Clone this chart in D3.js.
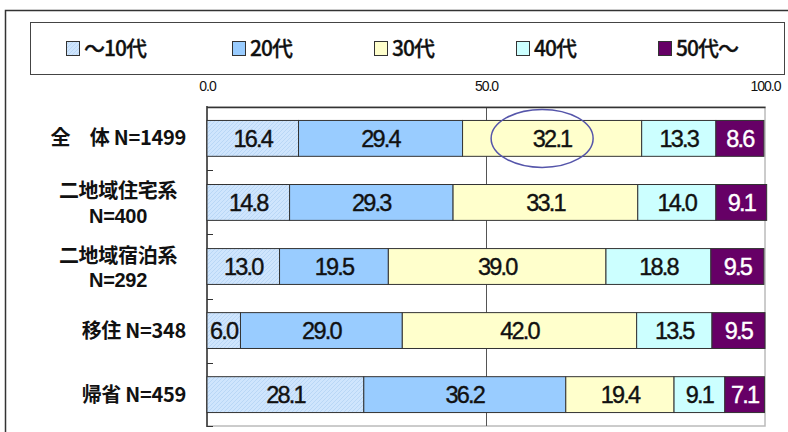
<!DOCTYPE html>
<html lang="ja">

<head>
    <meta charset="UTF-8">
    <title>年代構成</title>
    <style>
        html,
        body {
            margin: 0;
            padding: 0;
            background: #fff;
        }

        svg {
            display: block;
            font-family: "Noto Sans CJK JP", "Noto Sans", sans-serif;
        }
    </style>
</head>

<body>
    <div id="wrapper"></div>

    <script src="https://d3js.org/d3.v7.min.js"></script>
    <script>
        // data
        const categories = ['全体', '二地域住宅系', '二地域宿泊系', '移住', '帰省'];
        const rowLabels = [
            ['全　体 N=1499'],
            ['二地域住宅系', 'N=400'],
            ['二地域宿泊系', 'N=292'],
            ['移住 N=348'],
            ['帰省 N=459']
        ];
        const ageGroups = ['～10代', '20代', '30代', '40代', '50代～'];
        const teens = [16.4, 14.8, 13.0, 6.0, 28.1];
        const twenties = [29.4, 29.3, 19.5, 29.0, 36.2];
        const thirties = [32.1, 33.1, 39.0, 42.0, 19.4];
        const forties = [13.3, 14.0, 18.8, 13.5, 9.1];
        const fiftiesPlus = [8.6, 9.1, 9.5, 9.5, 7.1];
        const xTicks = [0, 50, 100];

        const colors = ['url(#hatch)', '#99ccff', '#ffffcc', '#ccffff', '#660066'];
        const textColors = ['#111', '#111', '#111', '#111', '#fff'];

        const width = 788, height = 432;
        const svg = d3.select('#wrapper').append('svg')
            .attr('width', width)
            .attr('height', height);

        // 斜線パターン (～10代)
        const defs = svg.append('defs');
        const pat = defs.append('pattern')
            .attr('id', 'hatch')
            .attr('patternUnits', 'userSpaceOnUse')
            .attr('width', 4).attr('height', 4);
        pat.append('rect').attr('width', 4).attr('height', 4).attr('fill', '#cfe5fd');
        pat.append('path').attr('d', 'M-1,1 l2,-2 M0,4 l4,-4 M3,5 l2,-2')
            .attr('stroke', '#b9d7f6').attr('stroke-width', 1);

        // 外枠
        svg.append('path')
            .attr('d', `M5.5,${height} V10.5 H${width}`)
            .attr('fill', 'none')
            .attr('stroke', '#333')
            .attr('stroke-width', 1.5);

        // 凡例
        svg.append('rect')
            .attr('x', 30.5).attr('y', 22.5)
            .attr('width', 754).attr('height', 52)
            .attr('fill', '#fff')
            .attr('stroke', '#444')
            .attr('stroke-width', 1);

        const legendX = [66, 232, 374, 516, 658];
        const legend = svg.append('g').selectAll('g')
            .data(ageGroups)
            .join('g')
            .attr('transform', (d, i) => `translate(${legendX[i]},41)`);
        legend.append('rect')
            .attr('x', 0.5).attr('y', 0.5)
            .attr('width', 13).attr('height', 14)
            .attr('fill', (d, i) => colors[i])
            .attr('stroke', '#333');
        legend.append('text')
            .attr('x', 18).attr('y', 15)
            .attr('font-size', 21)
            .attr('font-weight', 500)
            .attr('letter-spacing', -1)
            .attr('fill', '#111')
            .attr('stroke', '#111')
            .attr('stroke-width', 0.3)
            .text(d => d);

        // スケール
        const x = d3.scaleLinear().domain([0, 100]).range([207, 765]);
        const y = d3.scaleBand().domain(categories).range([107, 426])
            .paddingInner(0.44).paddingOuter(0.21);

        // プロットエリア枠
        svg.append('rect')
            .attr('x', x(0)).attr('y', 107)
            .attr('width', x(100) - x(0)).attr('height', 426 - 107)
            .attr('fill', '#fff')
            .attr('stroke', '#bbb')
            .attr('stroke-width', 1.5);

        // 50のグリッド線
        svg.append('line')
            .attr('x1', x(50) + 0.5).attr('x2', x(50) + 0.5)
            .attr('y1', 107).attr('y2', 426)
            .attr('stroke', '#555');

        // 上軸
        const xAxis = d3.axisTop(x)
            .tickValues(xTicks)
            .tickFormat(d3.format('.1f'))
            .tickSize(0)
            .tickPadding(16);
        const xAxisG = svg.append('g')
            .attr('transform', 'translate(0,107)')
            .call(xAxis);
        xAxisG.select('.domain')
            .attr('stroke', '#333')
            .attr('stroke-width', 1.5);
        xAxisG.selectAll('.tick text')
            .attr('font-family', '"Liberation Sans", Arial, sans-serif')
            .attr('font-size', 14)
            .attr('letter-spacing', -1)
            .attr('fill', '#111');

        // 左軸（カテゴリ境界のtick）
        const step = y.step();
        const boundaries = [107].concat(categories.slice(0, -1).map(c => y(c) + y.bandwidth() + (step - y.bandwidth()) / 2), [426]);
        svg.append('line')
            .attr('x1', x(0)).attr('x2', x(0))
            .attr('y1', 106).attr('y2', 427)
            .attr('stroke', '#333')
            .attr('stroke-width', 1.5);
        svg.append('g').selectAll('line')
            .data(boundaries)
            .join('line')
            .attr('x1', x(0)).attr('x2', x(0) + 6)
            .attr('y1', d => Math.round(d) + 0.5).attr('y2', d => Math.round(d) + 0.5)
            .attr('stroke', '#333');

        // 積み上げデータ
        const series = [teens, twenties, thirties, forties, fiftiesPlus];
        const rows = categories.map((c, i) => {
            let acc = 0;
            return series.map((s, k) => {
                const seg = { cat: c, k: k, v: s[i], x0: acc, x1: acc + s[i] };
                acc += s[i];
                return seg;
            });
        });

        const barG = svg.append('g');
        rows.forEach(segs => {
            const g = barG.append('g');
            g.selectAll('rect')
                .data(segs)
                .join('rect')
                .attr('x', d => x(d.x0))
                .attr('y', d => y(d.cat))
                .attr('width', d => x(d.x1) - x(d.x0))
                .attr('height', y.bandwidth())
                .attr('fill', d => colors[d.k])
                .attr('stroke', '#333')
                .attr('stroke-width', 1);
            g.selectAll('text')
                .data(segs)
                .join('text')
                .attr('x', d => (x(d.x0) + x(d.x1)) / 2)
                .attr('y', d => y(d.cat) + y.bandwidth() / 2 + 8.5)
                .attr('text-anchor', 'middle')
                .attr('font-family', '"Liberation Sans", Arial, sans-serif')
                .attr('font-size', 23.5)
                .attr('letter-spacing', -1.8)
                .attr('fill', d => textColors[d.k])
                .attr('stroke', d => textColors[d.k])
                .attr('stroke-width', 0.4)
                .text(d => d.v.toFixed(1));
        });

        // 行ラベル
        const labelG = svg.append('g')
            .attr('font-size', 20)
            .attr('font-weight', 700)
            .attr('fill', '#111');
        rowLabels.forEach((lines, i) => {
            const cy = y(categories[i]) + y.bandwidth() / 2;
            if (lines.length === 1) {
                labelG.append('text')
                    .attr('text-anchor', 'end')
                    .attr('x', 186)
                    .attr('y', cy + 7)
                    .attr('letter-spacing', -0.3)
                    .text(lines[0]);
            } else {
                // 2行目は欧文フォントで行間を詰める
                labelG.append('text')
                    .attr('text-anchor', 'middle')
                    .attr('x', 118)
                    .attr('y', cy - 4)
                    .attr('letter-spacing', -0.3)
                    .text(lines[0]);
                labelG.append('text')
                    .attr('text-anchor', 'middle')
                    .attr('x', 118)
                    .attr('y', cy + 20.5)
                    .attr('font-family', '"Liberation Sans", Arial, sans-serif')
                    .attr('letter-spacing', -0.3)
                    .text(lines[1]);
            }
        });

        // 注目の楕円 (全体の30代)
        const hi = rows[0][2];
        svg.append('ellipse')
            .attr('cx', x((hi.x0 + hi.x1) / 2) - 10)
            .attr('cy', y(hi.cat) + y.bandwidth() / 2)
            .attr('rx', 51)
            .attr('ry', 29)
            .attr('fill', 'none')
            .attr('stroke', '#5555aa')
            .attr('stroke-width', 1.5);
    </script>
</body>

</html>
